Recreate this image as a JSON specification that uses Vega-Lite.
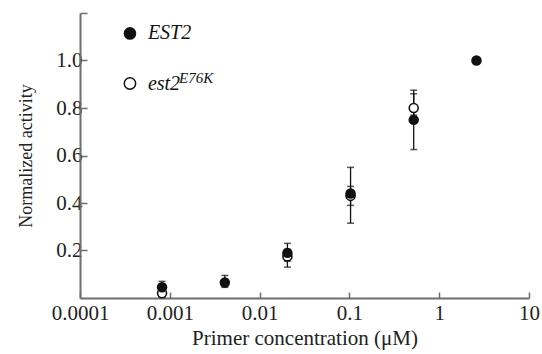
{
  "$schema": "https://vega.github.io/schema/vega-lite/v6.json",
  "width": 449,
  "height": 285,
  "autosize": "none",
  "padding": {"left": 80, "top": 13, "right": 13, "bottom": 56},
  "background": "white",
  "config": {
    "view": {"stroke": null},
    "font": "Liberation Serif",
    "axis": {
      "grid": false,
      "domainColor": "#6e6e6e",
      "domainWidth": 2,
      "tickColor": "#6e6e6e",
      "tickWidth": 1.5,
      "labelFont": "Liberation Serif",
      "labelFontSize": 21,
      "labelColor": "#222",
      "titleFont": "Liberation Serif",
      "titleFontSize": 21,
      "titleFontWeight": "normal",
      "titleColor": "#222"
    }
  },
  "datasets": {
    "points": [
      {"conc": 0.00082, "activity": 0.02, "lower": 0.005, "upper": 0.04, "strain": "est2-E76K"},
      {"conc": 0.0204, "activity": 0.175, "lower": 0.13, "upper": 0.205, "strain": "est2-E76K"},
      {"conc": 0.103, "activity": 0.43, "lower": 0.39, "upper": 0.47, "strain": "est2-E76K"},
      {"conc": 0.52, "activity": 0.80, "lower": 0.77, "upper": 0.875, "strain": "est2-E76K"},
      {"conc": 0.00082, "activity": 0.045, "lower": 0.03, "upper": 0.07, "strain": "EST2"},
      {"conc": 0.0041, "activity": 0.065, "lower": 0.045, "upper": 0.095, "strain": "EST2"},
      {"conc": 0.0204, "activity": 0.19, "lower": 0.155, "upper": 0.23, "strain": "EST2"},
      {"conc": 0.103, "activity": 0.44, "lower": 0.315, "upper": 0.55, "strain": "EST2"},
      {"conc": 0.52, "activity": 0.75, "lower": 0.625, "upper": 0.86, "strain": "EST2"},
      {"conc": 2.6, "activity": 1.0, "lower": 1.0, "upper": 1.0, "strain": "EST2"}
    ],
    "legend": [
      {"lx": 0.00036, "ly": 1.114, "label": "EST2", "tx": 0.00057, "kind": "filled"},
      {"lx": 0.00036, "ly": 0.903, "label": "est2", "tx": 0.00057, "kind": "open"}
    ],
    "legendsup": [
      {"sx": 0.00127, "sy": 0.925, "sup": "E76K"}
    ]
  },
  "layer": [
    {
      "data": {"name": "points"},
      "transform": [{"filter": "datum.upper > datum.lower"}],
      "mark": {"type": "rule", "color": "#111", "strokeWidth": 1.3},
      "encoding": {
        "x": {"field": "conc", "type": "quantitative",
          "scale": {"type": "log", "domain": [0.0001, 10]},
          "axis": {"values": [0.0001, 0.001, 0.01, 0.1, 1, 10], "format": "~g", "tickSize": -6, "labelPadding": 10, "labelFlush": false, "title": "Primer concentration (μM)", "titlePadding": 4}},
        "y": {"field": "lower", "type": "quantitative",
          "scale": {"domain": [0, 1.2], "nice": false},
          "axis": {"values": [0.2, 0.4, 0.6, 0.8, 1.0, 1.2], "labelExpr": "datum.value > 1.1 ? '' : format(datum.value, '.1f')", "tickSize": -7, "labelPadding": 5, "title": "Normalized activity", "titleFontSize": 18, "titlePadding": 20}},
        "y2": {"field": "upper"}
      }
    },
    {
      "data": {"name": "points"},
      "transform": [{"filter": "datum.upper > datum.lower"}],
      "mark": {"type": "tick", "orient": "horizontal", "color": "#111", "size": 7, "thickness": 1.5},
      "encoding": {
        "x": {"field": "conc", "type": "quantitative"},
        "y": {"field": "upper", "type": "quantitative"}
      }
    },
    {
      "data": {"name": "points"},
      "transform": [{"filter": "datum.upper > datum.lower"}],
      "mark": {"type": "tick", "orient": "horizontal", "color": "#111", "size": 7, "thickness": 1.5},
      "encoding": {
        "x": {"field": "conc", "type": "quantitative"},
        "y": {"field": "lower", "type": "quantitative"}
      }
    },
    {
      "data": {"name": "points"},
      "transform": [{"filter": "datum.strain == 'est2-E76K'"}],
      "mark": {"type": "point", "shape": "circle", "filled": false, "fill": "white", "fillOpacity": 1, "stroke": "#111", "strokeWidth": 1.6, "size": 80, "opacity": 1},
      "encoding": {
        "x": {"field": "conc", "type": "quantitative"},
        "y": {"field": "activity", "type": "quantitative"}
      }
    },
    {
      "data": {"name": "points"},
      "transform": [{"filter": "datum.strain == 'EST2'"}],
      "mark": {"type": "point", "shape": "circle", "filled": true, "color": "#111", "size": 110, "opacity": 1},
      "encoding": {
        "x": {"field": "conc", "type": "quantitative"},
        "y": {"field": "activity", "type": "quantitative"}
      }
    },
    {
      "data": {"name": "legend"},
      "transform": [{"filter": "datum.kind == 'filled'"}],
      "mark": {"type": "point", "shape": "circle", "filled": true, "color": "#111", "size": 160, "opacity": 1},
      "encoding": {
        "x": {"field": "lx", "type": "quantitative"},
        "y": {"field": "ly", "type": "quantitative"}
      }
    },
    {
      "data": {"name": "legend"},
      "transform": [{"filter": "datum.kind == 'open'"}],
      "mark": {"type": "point", "shape": "circle", "filled": false, "fill": "white", "fillOpacity": 1, "stroke": "#111", "strokeWidth": 1.5, "size": 130, "opacity": 1},
      "encoding": {
        "x": {"field": "lx", "type": "quantitative"},
        "y": {"field": "ly", "type": "quantitative"}
      }
    },
    {
      "data": {"name": "legend"},
      "mark": {"type": "text", "align": "left", "baseline": "middle", "font": "Liberation Serif", "fontStyle": "italic", "fontSize": 20, "color": "#111"},
      "encoding": {
        "x": {"field": "tx", "type": "quantitative"},
        "y": {"field": "ly", "type": "quantitative"},
        "text": {"field": "label"}
      }
    },
    {
      "data": {"name": "legendsup"},
      "mark": {"type": "text", "align": "left", "baseline": "middle", "font": "Liberation Serif", "fontStyle": "italic", "fontSize": 15, "color": "#111"},
      "encoding": {
        "x": {"field": "sx", "type": "quantitative"},
        "y": {"field": "sy", "type": "quantitative"},
        "text": {"field": "sup"}
      }
    }
  ]
}
